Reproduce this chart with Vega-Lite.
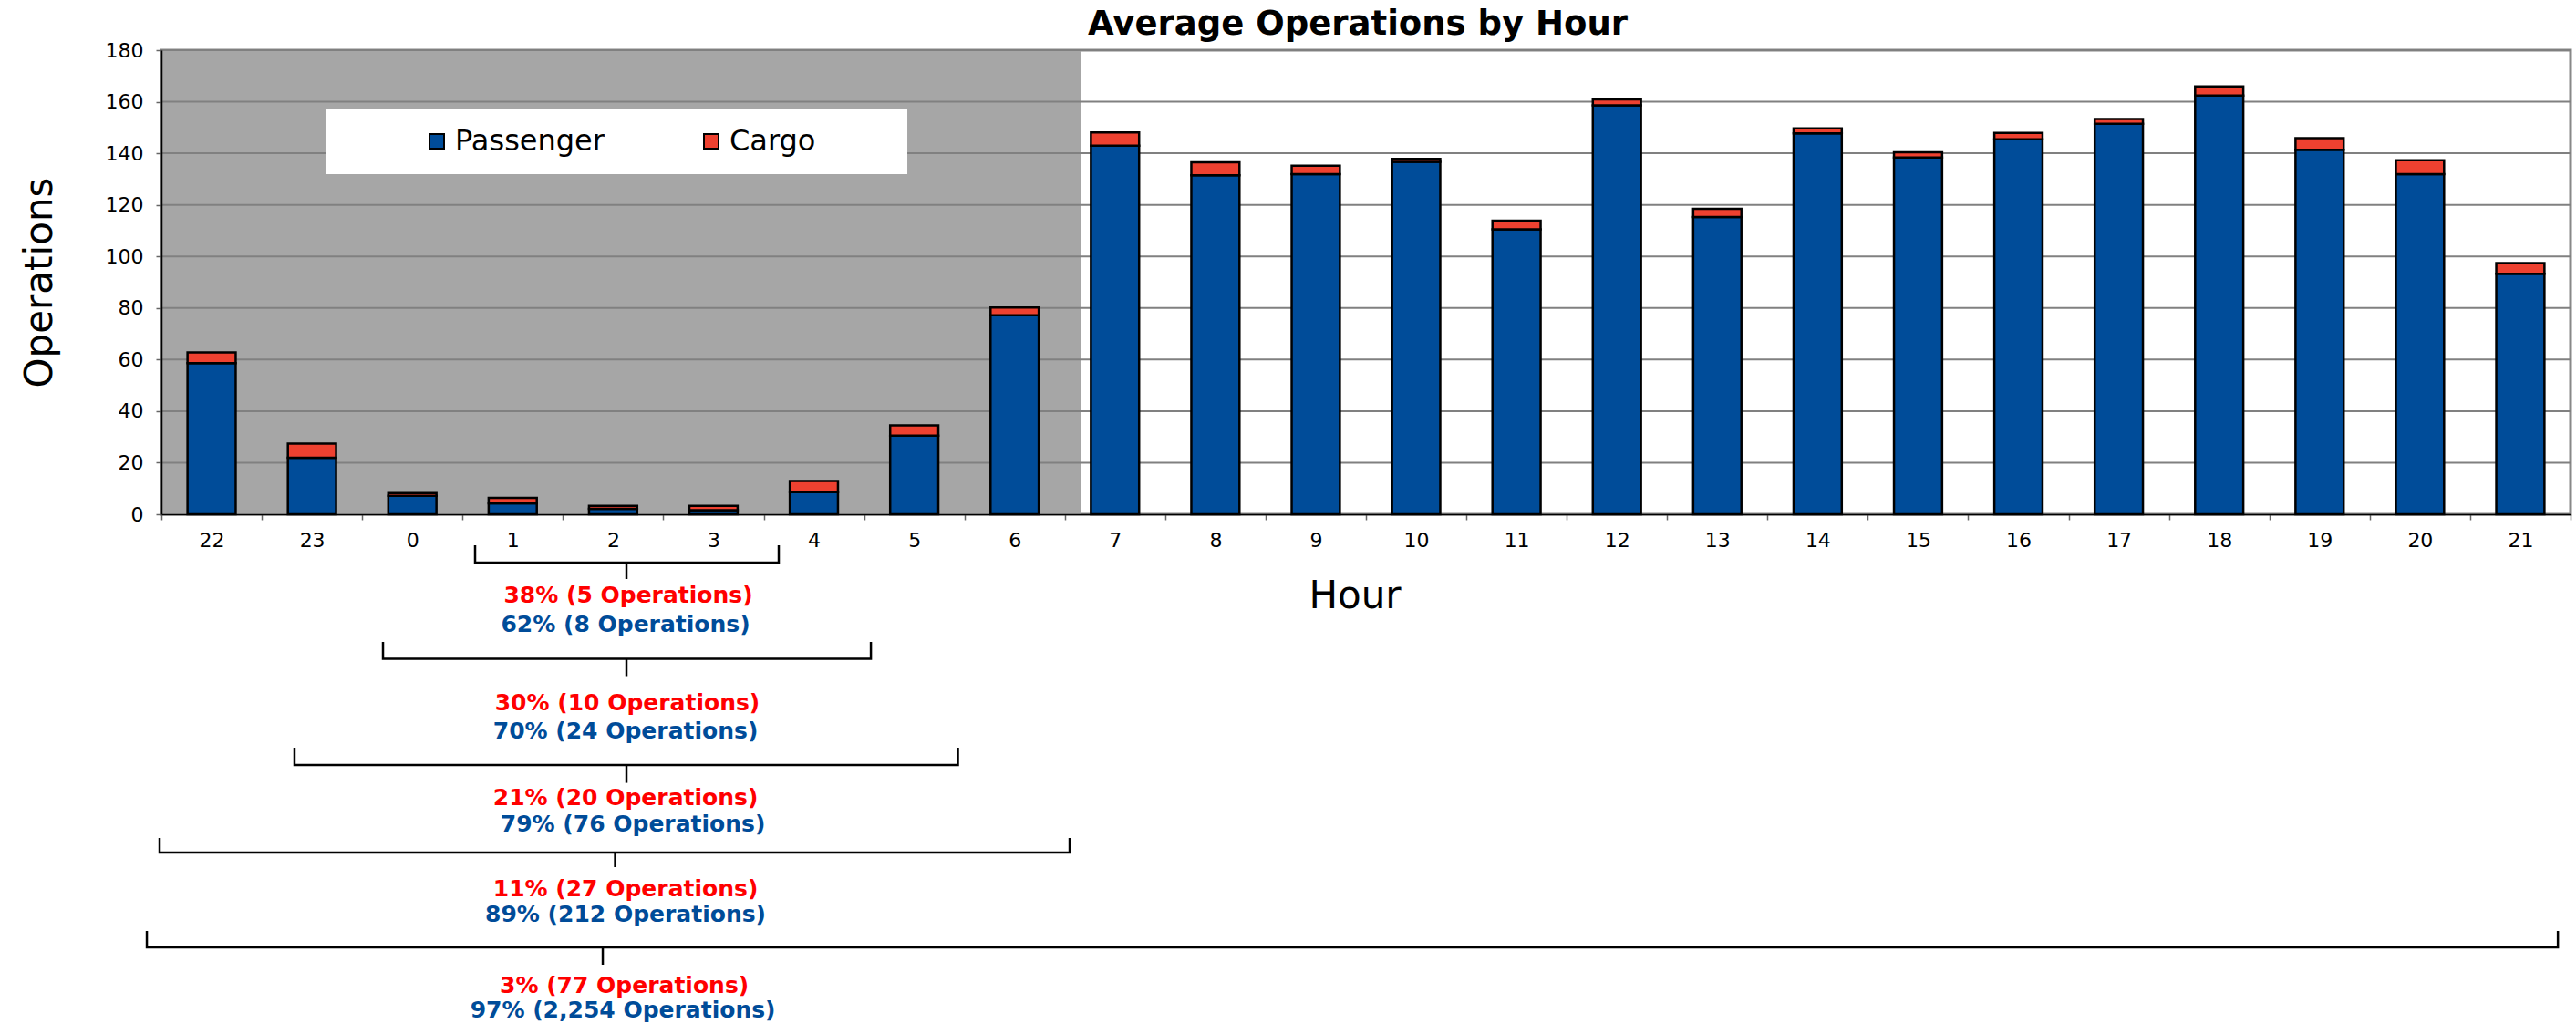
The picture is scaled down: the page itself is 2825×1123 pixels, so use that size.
{
  "$schema": "https://vega.github.io/schema/vega-lite/v6.json",
  "width": 2642,
  "height": 509,
  "autosize": {"type": "none"},
  "padding": {"left": 177, "top": 55, "right": 6, "bottom": 559},
  "background": "white",
  "config": {
    "font": "DejaVu Sans",
    "view": {"stroke": "#888888", "strokeWidth": 3}
  },
  "title": {
    "text": "Average Operations by Hour",
    "font": "DejaVu Sans",
    "fontSize": 37,
    "fontWeight": "bold",
    "color": "black",
    "anchor": "middle",
    "frame": "group",
    "baseline": "alphabetic",
    "offset": 4,
    "dx": -9,
    "dy": 35
  },
  "datasets": {
    "shade": [{"start": 0, "end": 9.157, "low": 0, "high": 180}],
    "grid": [{"value": 20}, {"value": 40}, {"value": 60}, {"value": 80}, {"value": 100}, {"value": 120}, {"value": 140}, {"value": 160}, {"value": 180}],
    "legendbox": [{"start": 1.635, "end": 7.431, "low": 131.9, "high": 157.4}],
    "bars": [
      {"hour": "22", "type": "Passenger", "operations": 58.6}, {"hour": "22", "type": "Cargo", "operations": 4.2},
      {"hour": "23", "type": "Passenger", "operations": 21.9}, {"hour": "23", "type": "Cargo", "operations": 5.5},
      {"hour": "0", "type": "Passenger", "operations": 7.2}, {"hour": "0", "type": "Cargo", "operations": 1.0},
      {"hour": "1", "type": "Passenger", "operations": 4.2}, {"hour": "1", "type": "Cargo", "operations": 2.2},
      {"hour": "2", "type": "Passenger", "operations": 2.1}, {"hour": "2", "type": "Cargo", "operations": 1.2},
      {"hour": "3", "type": "Passenger", "operations": 1.6}, {"hour": "3", "type": "Cargo", "operations": 1.7},
      {"hour": "4", "type": "Passenger", "operations": 8.6}, {"hour": "4", "type": "Cargo", "operations": 4.3},
      {"hour": "5", "type": "Passenger", "operations": 30.5}, {"hour": "5", "type": "Cargo", "operations": 4.0},
      {"hour": "6", "type": "Passenger", "operations": 77.2}, {"hour": "6", "type": "Cargo", "operations": 3.0},
      {"hour": "7", "type": "Passenger", "operations": 143.0}, {"hour": "7", "type": "Cargo", "operations": 5.1},
      {"hour": "8", "type": "Passenger", "operations": 131.5}, {"hour": "8", "type": "Cargo", "operations": 5.0},
      {"hour": "9", "type": "Passenger", "operations": 131.9}, {"hour": "9", "type": "Cargo", "operations": 3.3},
      {"hour": "10", "type": "Passenger", "operations": 136.7}, {"hour": "10", "type": "Cargo", "operations": 1.1},
      {"hour": "11", "type": "Passenger", "operations": 110.5}, {"hour": "11", "type": "Cargo", "operations": 3.4},
      {"hour": "12", "type": "Passenger", "operations": 158.6}, {"hour": "12", "type": "Cargo", "operations": 2.3},
      {"hour": "13", "type": "Passenger", "operations": 115.3}, {"hour": "13", "type": "Cargo", "operations": 3.2},
      {"hour": "14", "type": "Passenger", "operations": 147.7}, {"hour": "14", "type": "Cargo", "operations": 2.0},
      {"hour": "15", "type": "Passenger", "operations": 138.4}, {"hour": "15", "type": "Cargo", "operations": 2.0},
      {"hour": "16", "type": "Passenger", "operations": 145.4}, {"hour": "16", "type": "Cargo", "operations": 2.5},
      {"hour": "17", "type": "Passenger", "operations": 151.4}, {"hour": "17", "type": "Cargo", "operations": 1.9},
      {"hour": "18", "type": "Passenger", "operations": 162.4}, {"hour": "18", "type": "Cargo", "operations": 3.5},
      {"hour": "19", "type": "Passenger", "operations": 141.4}, {"hour": "19", "type": "Cargo", "operations": 4.5},
      {"hour": "20", "type": "Passenger", "operations": 131.9}, {"hour": "20", "type": "Cargo", "operations": 5.4},
      {"hour": "21", "type": "Passenger", "operations": 93.3}, {"hour": "21", "type": "Cargo", "operations": 4.1}
    ],
    "brackets": [
      {"bracket": 1, "seq": 1, "u": 3.125, "v": -12.02}, {"bracket": 1, "seq": 2, "u": 3.125, "v": -18.74}, {"bracket": 1, "seq": 3, "u": 6.15, "v": -18.74}, {"bracket": 1, "seq": 4, "u": 6.15, "v": -12.02},
      {"bracket": 2, "seq": 1, "u": 2.2075, "v": -49.51}, {"bracket": 2, "seq": 2, "u": 2.2075, "v": -56.09}, {"bracket": 2, "seq": 3, "u": 7.068, "v": -56.09}, {"bracket": 2, "seq": 4, "u": 7.068, "v": -49.51},
      {"bracket": 3, "seq": 1, "u": 1.326, "v": -90.53}, {"bracket": 3, "seq": 2, "u": 1.326, "v": -97.25}, {"bracket": 3, "seq": 3, "u": 7.935, "v": -97.25}, {"bracket": 3, "seq": 4, "u": 7.935, "v": -90.53},
      {"bracket": 4, "seq": 1, "u": -0.018, "v": -125.54}, {"bracket": 4, "seq": 2, "u": -0.018, "v": -131.2}, {"bracket": 4, "seq": 3, "u": 9.048, "v": -131.2}, {"bracket": 4, "seq": 4, "u": 9.048, "v": -125.54},
      {"bracket": 5, "seq": 1, "u": -0.145, "v": -161.6}, {"bracket": 5, "seq": 2, "u": -0.145, "v": -167.98}, {"bracket": 5, "seq": 3, "u": 23.874, "v": -167.98}, {"bracket": 5, "seq": 4, "u": 23.874, "v": -161.6}
    ],
    "stems": [
      {"u": 4.633, "top": -18.74, "bottom": -25.11},
      {"u": 4.633, "top": -56.09, "bottom": -62.77},
      {"u": 4.633, "top": -97.25, "bottom": -104.18},
      {"u": 4.52, "top": -131.2, "bottom": -136.86},
      {"u": 4.397, "top": -167.98, "bottom": -174.7}
    ],
    "labels": [
      {"text": "38% (5 Operations)", "kind": "cargo", "u": 4.651, "v": -31.47},
      {"text": "62% (8 Operations)", "kind": "passenger", "u": 4.624, "v": -42.79},
      {"text": "30% (10 Operations)", "kind": "cargo", "u": 4.642, "v": -73.2},
      {"text": "70% (24 Operations)", "kind": "passenger", "u": 4.624, "v": -84.17},
      {"text": "21% (20 Operations)", "kind": "cargo", "u": 4.624, "v": -109.84},
      {"text": "79% (76 Operations)", "kind": "passenger", "u": 4.697, "v": -120.09},
      {"text": "11% (27 Operations)", "kind": "cargo", "u": 4.624, "v": -145.34},
      {"text": "89% (212 Operations)", "kind": "passenger", "u": 4.624, "v": -155.24},
      {"text": "3% (77 Operations)", "kind": "cargo", "u": 4.611, "v": -182.72},
      {"text": "97% (2,254 Operations)", "kind": "passenger", "u": 4.597, "v": -192.38}
    ]
  },
  "layer": [
    {
      "data": {"name": "shade"},
      "mark": {"type": "rect", "fill": "#A6A6A6"},
      "encoding": {
        "x": {"field": "start", "type": "quantitative", "scale": {"domain": [0, 24], "nice": false, "zero": false}, "axis": null},
        "x2": {"field": "end"},
        "y": {"field": "low", "type": "quantitative", "scale": {"domain": [0, 180], "nice": false}, "axis": null},
        "y2": {"field": "high"}
      }
    },
    {
      "data": {"name": "grid"},
      "mark": {"type": "rule", "stroke": "#808080", "strokeWidth": 2},
      "encoding": {
        "y": {"field": "value", "type": "quantitative", "scale": {"domain": [0, 180], "nice": false}, "axis": null}
      }
    },
    {
      "data": {"name": "legendbox"},
      "mark": {"type": "rect", "fill": "white"},
      "encoding": {
        "x": {"field": "start", "type": "quantitative", "scale": {"domain": [0, 24], "nice": false, "zero": false}, "axis": null},
        "x2": {"field": "end"},
        "y": {"field": "low", "type": "quantitative", "scale": {"domain": [0, 180], "nice": false}, "axis": null},
        "y2": {"field": "high"}
      }
    },
    {
      "data": {"name": "bars"},
      "mark": {"type": "bar", "width": {"band": 0.48}, "stroke": "black", "strokeWidth": 2.5},
      "encoding": {
        "x": {
          "field": "hour", "type": "nominal",
          "sort": ["22", "23", "0", "1", "2", "3", "4", "5", "6", "7", "8", "9", "10", "11", "12", "13", "14", "15", "16", "17", "18", "19", "20", "21"],
          "scale": {"paddingInner": 0, "paddingOuter": 0},
          "axis": {
            "title": "Hour", "labelAngle": 0, "labelFontSize": 22, "labelFont": "DejaVu Sans", "labelColor": "black",
            "labelPadding": 12, "tickBand": "extent", "tickSize": 6, "tickColor": "#666666", "tickWidth": 1.5,
            "domainColor": "black", "domainWidth": 1.5, "grid": false,
            "titleFontSize": 42, "titleFontWeight": "normal", "titleFont": "DejaVu Sans", "titleColor": "black",
            "titleX": 1308.5, "titleY": 102, "titleBaseline": "alphabetic", "titleAlign": "center", "zindex": 1
          }
        },
        "y": {
          "field": "operations", "type": "quantitative", "stack": "zero",
          "scale": {"domain": [0, 180], "nice": false},
          "axis": {
            "title": "Operations", "values": [0, 20, 40, 60, 80, 100, 120, 140, 160, 180], "grid": false,
            "labelFontSize": 22, "labelFont": "DejaVu Sans", "labelColor": "black", "labelPadding": 14,
            "tickSize": 6, "tickColor": "#666666", "tickWidth": 1.5, "domainColor": "black", "domainWidth": 1.5,
            "titleFontSize": 42, "titleFontWeight": "normal", "titleFont": "DejaVu Sans", "titleColor": "black",
            "titleX": -121, "titleY": 254.5, "titleAngle": -90, "titleBaseline": "alphabetic", "titleAlign": "center", "zindex": 1
          }
        },
        "color": {
          "field": "type", "type": "nominal",
          "scale": {"domain": ["Passenger", "Cargo"], "range": ["#004C99", "#EE4130"]},
          "legend": {
            "orient": "none", "legendX": 286, "legendY": 84, "direction": "horizontal", "title": null,
            "labelFontSize": 32, "labelFont": "DejaVu Sans", "labelColor": "black", "labelLimit": 400,
            "symbolType": "square", "symbolSize": 256, "symbolStrokeColor": "black", "symbolStrokeWidth": 2,
            "labelOffset": 4, "columnPadding": 101, "padding": 0
          }
        },
        "order": {"field": "type", "sort": "descending"}
      }
    },
    {
      "data": {"name": "brackets"},
      "mark": {"type": "line", "color": "black", "stroke": "black", "strokeWidth": 2.5},
      "encoding": {
        "x": {"field": "u", "type": "quantitative", "scale": {"domain": [0, 24], "nice": false, "zero": false}, "axis": null},
        "y": {"field": "v", "type": "quantitative", "scale": {"domain": [0, 180], "nice": false}, "axis": null},
        "detail": {"field": "bracket", "type": "nominal"},
        "order": {"field": "seq", "type": "quantitative"}
      }
    },
    {
      "data": {"name": "stems"},
      "mark": {"type": "rule", "color": "black", "strokeWidth": 2.5},
      "encoding": {
        "x": {"field": "u", "type": "quantitative", "scale": {"domain": [0, 24], "nice": false, "zero": false}, "axis": null},
        "y": {"field": "top", "type": "quantitative", "scale": {"domain": [0, 180], "nice": false}, "axis": null},
        "y2": {"field": "bottom"}
      }
    },
    {
      "data": {"name": "labels"},
      "mark": {"type": "text", "font": "DejaVu Sans", "fontWeight": "bold", "fontSize": 25, "align": "center", "baseline": "middle"},
      "encoding": {
        "x": {"field": "u", "type": "quantitative", "scale": {"domain": [0, 24], "nice": false, "zero": false}, "axis": null},
        "y": {"field": "v", "type": "quantitative", "scale": {"domain": [0, 180], "nice": false}, "axis": null},
        "text": {"field": "text"},
        "color": {"field": "kind", "type": "nominal", "scale": {"domain": ["cargo", "passenger"], "range": ["#FF0000", "#004C99"]}, "legend": null}
      }
    }
  ],
  "resolve": {"scale": {"x": "independent", "y": "independent", "color": "independent"}}
}
